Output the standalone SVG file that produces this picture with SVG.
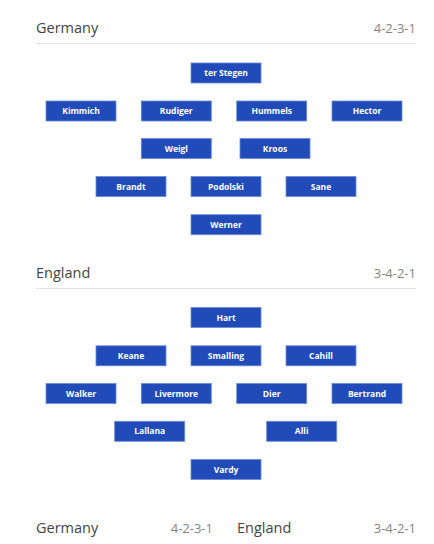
<svg xmlns="http://www.w3.org/2000/svg" width="434" height="544" viewBox="0 0 434 544">
<style>
.bg{fill:#ffffff}
.team{font-family:"Open Sans","Noto Sans",sans-serif;font-size:14.5px;fill:#444444;font-weight:400}
.form{font-family:"Open Sans","Noto Sans",sans-serif;font-size:13px;fill:#858585;text-anchor:end}
.rule{stroke:#e3e3e3;stroke-width:1}
.p rect{fill:#214bb8;stroke:#6c8ad6;stroke-width:0.8}
.p text{font-family:"Open Sans","Noto Sans",sans-serif;font-size:8.5px;font-weight:700;fill:#ffffff;text-anchor:middle}
</style>
<rect class="bg" x="0" y="0" width="434" height="544"/>
<g id="germany-header">
<text class="team" x="36" y="33">Germany</text>
<text class="form" x="416" y="33">4-2-3-1</text>
<line class="rule" x1="36" y1="43.5" x2="416" y2="43.5"/>
</g>
<g id="connectors"></g>
<g id="ter-stegen" class="p"><rect x="191" y="63" width="70" height="20"/><text x="226" y="76">ter Stegen</text></g>
<g id="kimmich" class="p"><rect x="46" y="101" width="70" height="20"/><text x="81" y="114">Kimmich</text></g>
<g id="rudiger" class="p"><rect x="141.3" y="101" width="70" height="20"/><text x="176.3" y="114">Rudiger</text></g>
<g id="hummels" class="p"><rect x="236.7" y="101" width="70" height="20"/><text x="271.7" y="114">Hummels</text></g>
<g id="hector" class="p"><rect x="332" y="101" width="70" height="20"/><text x="367" y="114">Hector</text></g>
<g id="weigl" class="p"><rect x="141.3" y="138.5" width="70" height="20"/><text x="176.3" y="151.5">Weigl</text></g>
<g id="kroos" class="p"><rect x="240" y="138.5" width="70" height="20"/><text x="275" y="151.5">Kroos</text></g>
<g id="brandt" class="p"><rect x="96" y="176.5" width="70" height="20"/><text x="131" y="189.5">Brandt</text></g>
<g id="podolski" class="p"><rect x="191" y="176.5" width="70" height="20"/><text x="226" y="189.5">Podolski</text></g>
<g id="sane" class="p"><rect x="286" y="176.5" width="70" height="20"/><text x="321" y="189.5">Sane</text></g>
<g id="werner" class="p"><rect x="191" y="214.7" width="70" height="20"/><text x="226" y="227.7">Werner</text></g>
<g id="england-header">
<text class="team" x="36" y="278">England</text>
<text class="form" x="416" y="278">3-4-2-1</text>
<line class="rule" x1="36" y1="288.5" x2="416" y2="288.5"/>
</g>
<g id="hart" class="p"><rect x="191" y="307.5" width="70" height="20"/><text x="226" y="320.5">Hart</text></g>
<g id="keane" class="p"><rect x="96" y="345.8" width="70" height="20"/><text x="131" y="358.8">Keane</text></g>
<g id="smalling" class="p"><rect x="191" y="345.8" width="70" height="20"/><text x="226" y="358.8">Smalling</text></g>
<g id="cahill" class="p"><rect x="286" y="345.8" width="70" height="20"/><text x="321" y="358.8">Cahill</text></g>
<g id="walker" class="p"><rect x="46" y="383.5" width="70" height="20"/><text x="81" y="396.5">Walker</text></g>
<g id="livermore" class="p"><rect x="141.3" y="383.5" width="70" height="20"/><text x="176.3" y="396.5">Livermore</text></g>
<g id="dier" class="p"><rect x="236.7" y="383.5" width="70" height="20"/><text x="271.7" y="396.5">Dier</text></g>
<g id="bertrand" class="p"><rect x="332" y="383.5" width="70" height="20"/><text x="367" y="396.5">Bertrand</text></g>
<g id="lallana" class="p"><rect x="114.7" y="421.3" width="70" height="20"/><text x="149.7" y="434.3">Lallana</text></g>
<g id="alli" class="p"><rect x="266.7" y="421.3" width="70" height="20"/><text x="301.7" y="434.3">Alli</text></g>
<g id="vardy" class="p"><rect x="191" y="459.5" width="70" height="20"/><text x="226" y="472.5">Vardy</text></g>
<g id="footer">
<text class="team" x="36" y="533">Germany</text>
<text class="form" x="213" y="533">4-2-3-1</text>
<text class="team" x="237" y="533">England</text>
<text class="form" x="416" y="533">3-4-2-1</text>
</g>
</svg>
